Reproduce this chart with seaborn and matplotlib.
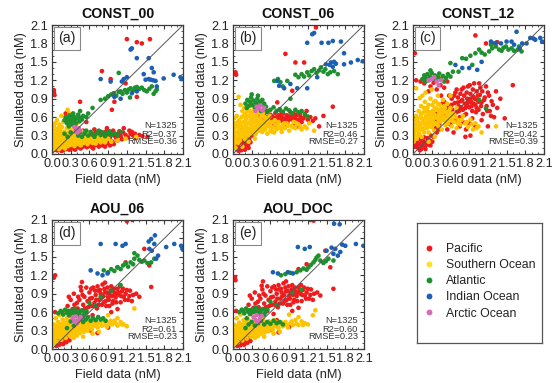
import numpy as np
import pandas as pd
import matplotlib
matplotlib.use("Agg")
import matplotlib.pyplot as plt
from matplotlib.lines import Line2D
from matplotlib.ticker import MultipleLocator
import seaborn as sns

# ---------------- data ----------------
oceans = ["Pacific", "Southern Ocean", "Atlantic", "Indian Ocean", "Arctic Ocean"]
titles = ["CONST_00", "CONST_06", "CONST_12", "AOU_06", "AOU_DOC"]
letters = ["(a)", "(b)", "(c)", "(d)", "(e)"]
n_obs = [1325, 1325, 1325, 1325, 1325]
r2_vals = [0.37, 0.46, 0.42, 0.61, 0.60]
rmse_vals = [0.36, 0.27, 0.39, 0.23, 0.23]
tick_values = [0.0, 0.3, 0.6, 0.9, 1.2, 1.5, 1.8, 2.1]

# ----- panel (a) CONST_00 -----
pac_a = [(0.04,0.07),(0.06,0.12),(0.08,0.06),(0.10,0.09),(0.12,0.14),(0.14,0.07),(0.16,0.10),(0.18,0.06),(0.20,0.12),
         (0.23,0.08),(0.25,0.11),(0.28,0.07),(0.30,0.13),(0.33,0.09),(0.35,0.12),(0.38,0.10),(0.40,0.15),(0.43,0.11),
         (0.45,0.13),(0.48,0.16),(0.50,0.12),(0.53,0.14),(0.55,0.18),(0.58,0.13),(0.60,0.16),(0.63,0.12),(0.65,0.17),
         (0.68,0.14),(0.70,0.19),(0.72,0.15),(0.75,0.12),(0.78,0.17),(0.80,0.14),(0.83,0.19),(0.86,0.16),(0.90,0.18),
         (0.93,0.14),(0.97,0.20),(0.55,0.30),(0.60,0.27),(0.62,0.33),(0.66,0.29),(0.70,0.35),(0.73,0.30),(0.76,0.27),
         (0.80,0.33),(0.83,0.29),(0.86,0.36),(0.90,0.31),(0.93,0.27),(0.96,0.34),(1.00,0.30),(1.03,0.26),(1.06,0.33),
         (1.10,0.29),(1.14,0.35),(1.18,0.31),(1.22,0.27),(1.26,0.33),(1.30,0.30),(1.35,0.26),(1.40,0.31),(1.45,0.29),
         (1.53,0.28),(0.50,0.38),(0.45,0.35),(0.68,0.40),(0.88,0.42),(1.15,0.42),(1.28,0.36),(0.25,0.58),(0.28,0.62),
         (0.30,0.55),(0.22,0.66),(0.33,0.65),(0.12,0.38),(0.05,0.28),(0.08,0.22),(0.38,0.48),(0.55,0.52),(0.03,1.04),
         (0.03,1.00),(0.04,0.96),(0.45,0.85),(0.80,1.35),(0.94,1.22),(1.00,0.85),(1.18,1.15),(1.36,0.93),(1.20,1.87),
         (1.36,1.82),(1.44,1.80),(1.57,1.87),(0.96,0.72),(0.15,0.05),(0.27,0.13),(0.37,0.07),(0.46,0.09),(0.56,0.11),
         (0.66,0.09),(0.74,0.16),(0.85,0.12),(0.88,0.22),(0.99,0.16),(1.05,0.22),(1.12,0.24),(0.71,0.25),(0.78,0.36),
         (0.98,0.38),(1.08,0.37),(1.24,0.38),(1.33,0.33)]
sou_a = [(0.01,0.12),(0.02,0.18),(0.02,0.25),(0.03,0.08),(0.03,0.31),(0.04,0.14),(0.05,0.21),(0.05,0.28),(0.06,0.10),
         (0.07,0.17),(0.07,0.35),(0.08,0.24),(0.09,0.13),(0.10,0.30),(0.10,0.19),(0.11,0.08),(0.12,0.26),(0.13,0.15),
         (0.13,0.38),(0.14,0.22),(0.15,0.11),(0.16,0.32),(0.17,0.18),(0.18,0.27),(0.19,0.14),(0.20,0.36),(0.20,0.23),
         (0.21,0.09),(0.22,0.30),(0.23,0.17),(0.24,0.42),(0.25,0.25),(0.26,0.13),(0.27,0.34),(0.28,0.20),(0.29,0.28),
         (0.30,0.15),(0.30,0.39),(0.31,0.24),(0.32,0.31),(0.33,0.18),(0.34,0.45),(0.35,0.27),(0.36,0.13),(0.37,0.35),
         (0.38,0.22),(0.39,0.30),(0.40,0.17),(0.41,0.40),(0.42,0.26),(0.43,0.33),(0.44,0.20),(0.45,0.29),(0.46,0.14),
         (0.47,0.37),(0.48,0.24),(0.50,0.31),(0.51,0.18),(0.52,0.27),(0.54,0.22),(0.55,0.34),(0.57,0.16),(0.58,0.28),
         (0.60,0.21),(0.62,0.25),(0.65,0.18),(0.68,0.27),(0.72,0.21),(0.75,0.24),(0.78,0.19),(0.82,0.26),(0.86,0.22),
         (0.90,0.25),(0.95,0.20),(1.05,0.22),(1.18,0.25),(1.35,0.28),(0.03,0.45),(0.05,0.50),(0.08,0.55),(0.12,0.48),
         (0.18,0.52),(0.22,0.60),(0.25,0.72),(0.28,0.66),(0.15,0.62),(0.35,0.55),(0.40,0.50),(0.10,0.42),(0.06,0.40),
         (0.02,0.36),(0.16,0.44),(0.27,0.48),(0.02,0.10),(0.04,0.22),(0.06,0.33),(0.08,0.16),(0.09,0.29),(0.11,0.35),
         (0.12,0.20),(0.14,0.29),(0.15,0.16),(0.17,0.24),(0.18,0.35),(0.19,0.20),(0.21,0.27),(0.22,0.14),(0.24,0.21),
         (0.25,0.33),(0.26,0.18),(0.28,0.29),(0.29,0.38),(0.31,0.17),(0.32,0.26),(0.34,0.21),(0.35,0.34),(0.37,0.19),
         (0.38,0.28),(0.40,0.24),(0.41,0.32),(0.43,0.16),(0.44,0.27),(0.46,0.22),(0.47,0.30),(0.49,0.19),(0.50,0.25),
         (0.53,0.30),(0.56,0.24),(0.59,0.19),(0.63,0.22),(0.67,0.24),(0.70,0.17),(0.74,0.27),(0.80,0.23),(0.85,0.19),
         (0.04,0.17),(0.07,0.27),(0.10,0.23),(0.13,0.12),(0.16,0.21),(0.20,0.17),(0.23,0.25),(0.27,0.22),(0.30,0.20),
         (0.33,0.30),(0.36,0.24),(0.39,0.20),(0.42,0.22),(0.45,0.25),(0.48,0.20),(0.52,0.22),(0.55,0.27)]
atl_a = [(0.20,0.55),(0.22,0.60),(0.24,0.50),(0.26,0.57),(0.28,0.63),(0.30,0.52),(0.31,0.58),(0.33,0.48),(0.35,0.61),
         (0.36,0.55),(0.38,0.50),(0.40,0.58),(0.42,0.64),(0.44,0.53),(0.46,0.59),(0.48,0.56),(0.50,0.62),(0.27,0.45),
         (0.23,0.53),(0.34,0.66),(0.45,0.70),(0.55,0.60),(0.58,0.66),(0.42,0.30),(0.45,0.35),(0.48,0.28),(0.52,0.33),
         (0.55,0.38),(0.58,0.30),(0.62,0.36),(0.65,0.32),(0.68,0.28),(0.72,0.34),(0.75,0.38),(0.78,0.31),(0.82,0.35),
         (0.85,0.29),(0.88,0.33),(0.92,0.37),(0.95,0.31),(1.00,0.34),(1.05,0.30),(1.10,0.36),(0.30,0.35),(0.25,0.28),
         (0.20,0.33),(0.38,0.40),(0.78,0.88),(0.85,0.90),(0.90,0.94),(0.95,0.97),(0.99,0.99),(1.03,0.95),(1.07,1.01),
         (1.10,1.02),(1.13,0.98),(1.17,1.04),(1.20,1.00),(1.23,1.05),(1.26,1.07),(1.30,1.03),(1.33,1.08),(1.36,1.09),
         (1.40,1.06),(1.44,1.08),(1.48,1.04),(1.52,1.02),(1.56,1.06),(1.60,1.10),(1.63,0.98),(1.66,1.02),(1.68,1.05),
         (1.07,1.32),(0.65,0.75),(1.25,0.92)]
ind_a = [(0.78,1.22),(0.94,1.18),(1.12,1.18),(1.20,1.25),(1.36,1.56),(1.55,1.56),(1.60,1.40),(1.63,1.33),(1.50,1.21),
         (1.55,1.22),(1.58,1.21),(1.62,1.20),(1.66,1.19),(1.79,1.23),(1.95,1.29),(2.06,1.25),(2.08,1.22),(1.26,1.70),
         (1.28,1.72),(1.10,0.90),(1.36,1.02),(1.28,0.99),(1.68,1.10),(1.00,0.93),(1.15,1.22),(1.47,1.30)]
arc_a = [(0.38,0.36),(0.40,0.40),(0.43,0.42),(0.45,0.38),(0.36,0.44),(0.41,0.35)]

# ----- panel (b) CONST_06 -----
pac_b = [(0.04,0.12),(0.06,0.18),(0.07,0.08),(0.08,0.14),(0.10,0.22),(0.11,0.10),(0.12,0.16),(0.13,0.06),(0.14,0.20),
         (0.15,0.13),(0.17,0.09),(0.18,0.17),(0.20,0.12),(0.22,0.20),(0.24,0.15),(0.26,0.25),(0.28,0.19),(0.09,0.26),
         (0.16,0.28),(0.30,0.30),(0.40,0.55),(0.43,0.62),(0.46,0.50),(0.48,0.58),(0.50,0.66),(0.52,0.53),(0.54,0.60),
         (0.56,0.48),(0.58,0.57),(0.60,0.64),(0.62,0.52),(0.64,0.60),(0.66,0.55),(0.68,0.67),(0.70,0.50),(0.72,0.58),
         (0.74,0.63),(0.76,0.54),(0.78,0.60),(0.80,0.66),(0.82,0.52),(0.84,0.58),(0.86,0.63),(0.88,0.55),(0.90,0.61),
         (0.92,0.68),(0.94,0.56),(0.96,0.62),(0.98,0.50),(1.00,0.58),(1.02,0.64),(1.05,0.55),(1.08,0.61),(1.10,0.52),
         (1.13,0.58),(1.16,0.63),(1.20,0.56),(1.24,0.60),(1.28,0.54),(1.32,0.58),(0.65,0.45),(0.85,0.46),(1.05,0.45),
         (0.55,0.70),(0.75,0.72),(1.18,0.70),(0.04,1.33),(0.05,1.29),(0.84,1.63),(1.00,1.49),(1.14,1.49),(1.60,0.77),
         (1.33,2.06),(0.71,0.84),(1.45,0.62),(1.38,0.45),(0.95,1.03),(0.05,0.09),(0.09,0.05),(0.12,0.24),(0.19,0.07),
         (0.21,0.16),(0.25,0.10),(0.60,0.56),(0.70,0.60),(0.80,0.56),(0.90,0.57),(1.00,0.62),(1.10,0.57),(0.68,0.55),
         (0.77,0.65),(0.87,0.51),(0.97,0.66),(1.07,0.66)]
sou_b = [(0.01,0.15),(0.01,0.30),(0.02,0.42),(0.03,0.22),(0.03,0.50),(0.04,0.10),(0.05,0.35),(0.06,0.27),(0.07,0.45),
         (0.08,0.18),(0.09,0.38),(0.10,0.55),(0.10,0.30),(0.11,0.22),(0.12,0.47),(0.13,0.36),(0.14,0.60),(0.15,0.28),
         (0.16,0.42),(0.17,0.52),(0.18,0.33),(0.19,0.65),(0.20,0.24),(0.20,0.45),(0.21,0.57),(0.22,0.37),(0.23,0.70),
         (0.24,0.30),(0.25,0.50),(0.26,0.62),(0.27,0.41),(0.28,0.55),(0.29,0.33),(0.30,0.67),(0.30,0.46),(0.31,0.58),
         (0.32,0.38),(0.33,0.52),(0.34,0.72),(0.35,0.44),(0.36,0.61),(0.37,0.35),(0.38,0.55),(0.39,0.48),(0.40,0.66),
         (0.41,0.40),(0.42,0.58),(0.43,0.50),(0.44,0.70),(0.45,0.43),(0.46,0.62),(0.47,0.36),(0.48,0.53),(0.50,0.46),
         (0.51,0.60),(0.52,0.40),(0.54,0.52),(0.55,0.33),(0.56,0.58),(0.58,0.45),(0.60,0.38),(0.62,0.52),(0.64,0.43),
         (0.66,0.35),(0.68,0.48),(0.70,0.40),(0.73,0.52),(0.75,0.44),(0.78,0.36),(0.80,0.48),(0.83,0.42),(0.86,0.50),
         (0.90,0.38),(0.93,0.46),(0.97,0.52),(1.00,0.42),(1.05,0.48),(1.10,0.40),(1.15,0.45),(1.22,0.50),(1.30,0.38),
         (0.09,0.93),(0.12,0.80),(0.18,0.75),(0.06,0.62),(0.02,0.58),(0.15,0.12),(0.25,0.20),(0.35,0.25),(0.15,0.70),
         (0.28,0.78),(0.02,0.35),(0.04,0.28),(0.05,0.45),(0.07,0.20),(0.08,0.52),(0.11,0.40),(0.12,0.28),(0.14,0.50),
         (0.16,0.35),(0.17,0.62),(0.19,0.44),(0.21,0.30),(0.22,0.50),(0.24,0.62),(0.26,0.36),(0.27,0.70),(0.29,0.48),
         (0.31,0.40),(0.33,0.62),(0.35,0.52),(0.36,0.32),(0.38,0.66),(0.40,0.45),(0.42,0.38),(0.44,0.56),(0.46,0.48),
         (0.48,0.66),(0.50,0.40),(0.53,0.58),(0.55,0.46),(0.57,0.52),(0.59,0.62),(0.61,0.44),(0.63,0.36),(0.67,0.55),
         (0.72,0.46),(0.77,0.42),(0.82,0.50),(0.88,0.46),(0.95,0.44),(1.02,0.50),(1.08,0.44),(1.18,0.42),(0.04,0.20),
         (0.09,0.33),(0.13,0.43),(0.18,0.40),(0.23,0.42),(0.28,0.38),(0.32,0.45),(0.37,0.42),(0.41,0.52),(0.45,0.55)]
atl_b = [(0.20,0.82),(0.23,0.88),(0.25,0.78),(0.27,0.85),(0.29,0.92),(0.31,0.80),(0.33,0.87),(0.35,0.76),(0.37,0.83),
         (0.39,0.90),(0.41,0.78),(0.43,0.85),(0.45,0.80),(0.47,0.88),(0.50,0.82),(0.53,0.77),(0.30,0.97),(0.40,0.95),
         (0.22,0.75),(0.45,0.70),(0.50,0.74),(0.55,0.68),(0.60,0.72),(0.65,0.76),(0.70,0.70),(0.75,0.73),(0.80,0.69),
         (0.85,0.74),(0.90,0.71),(0.95,0.66),(1.00,0.72),(1.05,0.68),(1.10,0.70),(1.15,0.65),(1.20,0.61),(0.66,1.19),
         (0.76,1.17),(0.87,1.19),(0.92,0.90),(1.00,1.29),(1.05,1.25),(1.10,1.30),(1.14,1.26),(1.19,1.33),(1.22,1.28),
         (1.26,1.35),(1.30,1.38),(1.34,1.32),(1.38,1.36),(1.41,1.41),(1.45,1.34),(1.48,1.38),(1.52,1.30),(1.56,1.33),
         (1.62,1.35),(1.68,1.30),(0.72,1.22),(0.80,1.10)]
ind_b = [(1.27,1.95),(1.30,1.97),(1.53,1.81),(1.60,1.84),(1.73,1.83),(1.42,1.81),(1.19,1.81),(1.49,1.46),(1.57,1.49),
         (1.65,1.47),(1.78,1.46),(1.89,1.49),(2.00,1.53),(2.08,1.51),(0.74,1.11),(0.82,1.07),(0.92,1.14),(1.03,1.07),
         (0.71,1.19),(1.19,1.07),(1.78,1.64),(1.55,1.45),(1.60,1.42),(1.35,1.25),(1.62,1.50)]
arc_b = [(0.41,0.74),(0.47,0.71),(0.38,0.77),(0.44,0.79),(0.50,0.75),(0.36,0.70)]

# ----- panel (c) CONST_12 -----
pac_c = [(0.04,0.12),(0.06,0.20),(0.08,0.10),(0.10,0.16),(0.12,0.24),(0.13,0.08),(0.15,0.14),(0.17,0.20),(0.19,0.12),
         (0.21,0.18),(0.23,0.26),(0.25,0.15),(0.27,0.22),(0.29,0.30),(0.31,0.20),(0.33,0.28),(0.09,0.30),(0.35,0.55),
         (0.40,0.65),(0.42,0.48),(0.45,0.72),(0.48,0.58),(0.50,0.85),(0.52,0.66),(0.55,0.50),(0.57,0.78),(0.60,0.62),
         (0.62,0.90),(0.63,0.72),(0.65,0.55),(0.67,0.83),(0.68,1.00),(0.70,0.68),(0.72,0.92),(0.73,0.78),(0.75,0.60),
         (0.77,0.86),(0.78,1.05),(0.80,0.72),(0.82,0.95),(0.83,0.82),(0.85,0.65),(0.87,0.90),(0.88,1.10),(0.90,0.76),
         (0.92,0.98),(0.93,0.85),(0.95,0.70),(0.97,0.93),(0.98,1.15),(1.00,0.80),(1.02,1.02),(1.03,0.88),(1.05,0.72),
         (1.07,0.96),(1.08,1.08),(1.10,0.84),(1.12,0.65),(1.15,0.92),(1.18,0.78),(1.20,1.00),(1.23,0.70),(1.26,0.86),
         (1.30,0.60),(1.35,0.75),(0.55,0.40),(0.65,0.35),(0.75,0.45),(0.90,0.50),(1.00,0.45),(0.84,0.28),(0.92,0.30),
         (1.47,0.58),(0.58,0.95),(0.45,0.95),(0.05,1.20),(0.12,1.18),(0.18,1.15),(0.22,1.22),(0.28,1.10),(0.33,1.16),
         (0.38,1.05),(0.44,1.12),(0.50,1.08),(0.55,1.18),(0.25,1.02),(0.03,1.64),(1.00,1.93),(1.17,1.80),(1.28,1.80),
         (1.35,1.82),(1.60,1.12),(0.62,0.80),(0.66,0.95),(0.70,1.05),(0.74,0.70),(0.76,0.98),(0.79,0.88),(0.81,1.08),
         (0.84,0.75),(0.86,1.00),(0.89,0.85),(0.91,1.12),(0.94,0.78),(0.96,1.05),(0.99,0.90),(1.01,0.68),(1.04,0.95),
         (1.06,1.15),(1.09,0.78),(1.11,1.02),(1.14,0.88),(1.17,1.10),(1.19,0.70),(1.22,0.95),(1.25,0.62),(1.28,0.80),
         (0.53,0.72),(0.47,0.82),(0.43,0.60),(0.38,0.70),(0.60,0.48),(0.70,0.55),(0.80,0.52),(0.95,0.58),(1.10,0.55),
         (0.85,0.40),(1.20,0.45),(1.40,0.90),(1.33,1.02),(0.38,0.35),(0.42,0.40),(0.36,0.42),(0.05,0.16),(0.07,0.26),
         (0.11,0.06),(0.14,0.21),(0.18,0.27),(0.20,0.08),(0.24,0.20),(0.28,0.14),(0.77,0.76),(0.87,0.80),(0.97,0.82),
         (1.05,0.85),(0.72,0.84),(0.92,0.90),(0.82,0.63),(1.02,0.75)]
sou_c = [(0.01,0.20),(0.01,0.40),(0.02,0.55),(0.03,0.30),(0.04,0.48),(0.05,0.62),(0.06,0.25),(0.07,0.38),(0.08,0.52),
         (0.09,0.70),(0.10,0.33),(0.11,0.45),(0.12,0.60),(0.13,0.78),(0.14,0.28),(0.15,0.40),(0.16,0.55),(0.17,0.68),
         (0.18,0.35),(0.19,0.85),(0.20,0.48),(0.21,0.62),(0.22,0.42),(0.23,0.75),(0.24,0.55),(0.25,0.35),(0.26,0.68),
         (0.27,0.50),(0.28,0.90),(0.29,0.60),(0.30,0.44),(0.31,0.80),(0.32,0.55),(0.33,0.70),(0.34,0.38),(0.35,0.62),
         (0.36,0.86),(0.37,0.50),(0.38,0.74),(0.39,0.58),(0.40,0.95),(0.41,0.45),(0.42,0.66),(0.43,0.80),(0.44,0.53),
         (0.45,0.70),(0.46,0.40),(0.47,0.62),(0.48,0.88),(0.50,0.55),(0.51,0.75),(0.52,0.47),(0.54,0.65),(0.55,0.82),
         (0.56,0.50),(0.58,0.70),(0.60,0.58),(0.62,0.45),(0.64,0.66),(0.66,0.52),(0.68,0.60),(0.70,0.42),(0.73,0.55),
         (0.76,0.48),(0.80,0.62),(0.84,0.50),(0.88,0.44),(0.92,0.56),(0.96,0.40),(1.00,0.50),(1.05,0.45),(1.10,0.35),
         (1.33,0.45),(0.05,1.07),(0.41,1.26),(0.11,0.91),(0.20,1.00),(0.15,0.95),(0.30,1.05),(0.60,0.95),(0.25,0.20),
         (0.35,0.28),(0.70,0.75),(0.02,0.35),(0.04,0.25),(0.05,0.42),(0.07,0.58),(0.08,0.30),(0.10,0.50),(0.12,0.40),
         (0.13,0.65),(0.15,0.50),(0.17,0.42),(0.18,0.75),(0.20,0.58),(0.22,0.70),(0.23,0.50),(0.25,0.80),(0.26,0.45),
         (0.28,0.65),(0.29,0.52),(0.31,0.70),(0.33,0.48),(0.34,0.85),(0.36,0.60),(0.37,0.72),(0.39,0.50),(0.40,0.82),
         (0.42,0.58),(0.44,0.72),(0.46,0.55),(0.48,0.68),(0.50,0.78),(0.52,0.60),(0.55,0.58),(0.57,0.62),(0.60,0.75),
         (0.63,0.55),(0.66,0.65),(0.72,0.50),(0.78,0.56),(0.86,0.52),(0.94,0.48),(1.02,0.42),(0.06,0.48),(0.09,0.42),
         (0.14,0.58),(0.19,0.50),(0.24,0.64),(0.27,0.58),(0.32,0.64),(0.35,0.75),(0.38,0.62),(0.41,0.70),(0.45,0.62),
         (0.49,0.72),(0.53,0.68),(0.58,0.56),(0.62,0.64)]
atl_c = [(0.15,1.22),(0.18,1.28),(0.20,1.24),(0.23,1.30),(0.25,1.20),(0.27,1.26),(0.30,1.32),(0.32,1.23),(0.35,1.28),
         (0.37,1.20),(0.40,1.25),(0.42,1.31),(0.45,1.22),(0.48,1.27),(0.50,1.18),(0.53,1.24),(0.56,1.30),(0.60,1.26),
         (0.64,1.34),(0.73,1.34),(0.20,1.18),(0.28,1.36),(0.79,1.56),(0.85,1.55),(0.92,1.60),(1.00,1.64),(1.06,1.70),
         (1.10,1.65),(1.15,1.62),(1.22,1.67),(1.27,1.72),(1.33,1.75),(1.38,1.70),(1.42,1.68),(1.45,1.73),(1.49,1.75),
         (1.53,1.70),(1.58,1.72),(1.62,1.68),(1.68,1.70),(1.74,1.67),(1.70,1.75),(1.25,1.78),(1.06,0.88),(1.17,0.74),
         (0.95,1.45),(0.60,1.48)]
ind_c = [(0.68,1.45),(0.79,1.40),(0.90,1.40),(1.03,1.37),(1.25,1.83),(1.33,1.81),(1.41,1.80),(1.58,1.83),(1.66,1.99),
         (1.88,1.89),(1.96,1.86),(2.04,1.89),(2.07,1.83),(1.82,1.80),(1.93,1.88),(1.71,1.72),(1.62,1.78),(1.75,1.80),
         (1.50,1.83),(1.10,1.50)]
arc_c = [(0.30,1.22),(0.34,1.25),(0.41,1.12),(0.25,1.20),(0.38,1.18),(0.45,1.20)]

# ----- panel (d) AOU_06 -----
pac_d = [(0.04,0.15),(0.05,0.22),(0.06,0.10),(0.08,0.18),(0.09,0.26),(0.10,0.12),(0.11,0.20),(0.12,0.07),(0.13,0.15),
         (0.14,0.24),(0.16,0.10),(0.17,0.18),(0.19,0.13),(0.20,0.22),(0.22,0.16),(0.24,0.28),(0.26,0.20),(0.28,0.14),
         (0.07,0.30),(0.15,0.32),(0.20,0.60),(0.25,0.70),(0.28,0.55),(0.30,0.80),(0.33,0.65),(0.35,0.90),(0.38,0.58),
         (0.40,0.75),(0.42,0.85),(0.45,0.62),(0.47,0.95),(0.50,0.72),(0.52,0.85),(0.55,0.60),(0.57,0.78),(0.60,0.92),
         (0.62,0.70),(0.64,0.83),(0.66,1.00),(0.68,0.75),(0.70,0.88),(0.72,0.66),(0.74,0.95),(0.76,0.80),(0.78,0.90),
         (0.80,0.72),(0.82,0.86),(0.84,0.98),(0.86,0.78),(0.88,0.92),(0.90,0.84),(0.92,0.70),(0.94,0.95),(0.96,0.86),
         (0.98,0.78),(1.00,0.92),(1.02,0.84),(1.05,0.98),(1.08,0.88),(1.10,0.76),(1.12,0.94),(1.15,0.85),(1.18,0.90),
         (1.22,0.80),(1.25,0.95),(1.30,0.88),(0.55,1.00),(0.85,1.08),(0.65,0.55),(0.95,0.60),(1.05,0.65),(0.45,0.50),
         (0.70,0.45),(0.05,1.20),(0.03,1.16),(0.48,1.09),(0.46,1.01),(1.05,1.33),(1.18,1.41),(1.29,2.10),(1.20,2.08),
         (1.48,1.63),(1.56,1.36),(1.59,1.01),(0.73,0.26),(0.62,0.30),(0.05,0.60),(0.90,0.35),(0.58,0.68),(0.61,0.82),
         (0.63,0.98),(0.67,0.70),(0.69,0.95),(0.71,0.80),(0.73,1.02),(0.75,0.72),(0.77,0.96),(0.79,0.84),(0.81,1.05),
         (0.83,0.76),(0.85,0.92),(0.87,0.70),(0.89,1.00),(0.91,0.80),(0.93,0.88),(0.95,1.02),(0.97,0.74),(0.99,0.98),
         (1.01,0.88),(1.03,0.76),(1.06,0.92),(1.09,1.02),(1.11,0.86),(1.14,0.98),(1.17,0.80),(1.20,0.96),(1.24,0.86),
         (1.28,0.78),(0.36,0.72),(0.41,0.66),(0.44,0.80),(0.49,0.88),(0.53,0.66),(0.27,0.85),(0.32,0.60),(1.35,0.90),
         (1.40,0.85),(0.07,0.05),(0.18,0.08),(0.23,0.11),(0.12,0.28)]
sou_d = [(0.01,0.18),(0.01,0.32),(0.02,0.25),(0.03,0.40),(0.04,0.14),(0.05,0.30),(0.06,0.22),(0.07,0.36),(0.08,0.12),
         (0.09,0.27),(0.10,0.44),(0.11,0.19),(0.12,0.33),(0.13,0.25),(0.14,0.40),(0.15,0.15),(0.16,0.30),(0.17,0.48),
         (0.18,0.22),(0.19,0.37),(0.20,0.28),(0.21,0.43),(0.22,0.18),(0.23,0.33),(0.24,0.50),(0.25,0.25),(0.26,0.39),
         (0.27,0.30),(0.28,0.46),(0.29,0.21),(0.30,0.36),(0.31,0.28),(0.32,0.42),(0.33,0.24),(0.34,0.50),(0.35,0.33),
         (0.36,0.40),(0.37,0.27),(0.38,0.45),(0.39,0.34),(0.40,0.22),(0.41,0.39),(0.42,0.30),(0.43,0.47),(0.44,0.36),
         (0.45,0.26),(0.46,0.42),(0.47,0.32),(0.48,0.50),(0.50,0.38),(0.51,0.28),(0.52,0.45),(0.54,0.34),(0.55,0.40),
         (0.57,0.30),(0.58,0.46),(0.60,0.36),(0.62,0.42),(0.64,0.32),(0.66,0.48),(0.68,0.38),(0.70,0.44),(0.73,0.35),
         (0.76,0.42),(0.80,0.38),(0.84,0.45),(0.88,0.36),(0.92,0.43),(0.96,0.40),(1.00,0.46),(1.05,0.38),(1.10,0.44),
         (1.15,0.40),(1.20,0.37),(1.05,0.50),(1.32,0.66),(0.90,0.55),(0.06,0.50),(0.12,0.55),(0.20,0.60),(0.03,0.08),
         (0.35,0.18),(0.50,0.20),(0.65,0.25),(0.75,0.28),(0.02,0.22),(0.03,0.30),(0.05,0.18),(0.06,0.38),(0.08,0.24),
         (0.09,0.33),(0.11,0.28),(0.12,0.40),(0.14,0.20),(0.15,0.34),(0.17,0.27),(0.18,0.42),(0.20,0.35),(0.21,0.22),
         (0.23,0.40),(0.25,0.32),(0.26,0.46),(0.28,0.26),(0.29,0.40),(0.31,0.34),(0.33,0.46),(0.35,0.28),(0.36,0.44),
         (0.38,0.36),(0.40,0.30),(0.41,0.46),(0.43,0.38),(0.45,0.33),(0.47,0.44),(0.49,0.35),(0.52,0.40),(0.55,0.31),
         (0.57,0.42),(0.60,0.40),(0.63,0.37),(0.67,0.42),(0.71,0.38),(0.78,0.44),(0.86,0.40),(0.94,0.46),(1.02,0.42),
         (1.12,0.40),(0.04,0.26),(0.10,0.36),(0.16,0.24),(0.22,0.30),(0.27,0.37),(0.32,0.31),(0.37,0.36),(0.42,0.34),
         (0.47,0.38),(0.53,0.36)]
atl_d = [(0.10,0.58),(0.14,0.62),(0.18,0.56),(0.21,0.64),(0.24,0.59),(0.27,0.55),(0.30,0.62),(0.33,0.58),(0.36,0.65),
         (0.39,0.57),(0.42,0.61),(0.45,0.55),(0.48,0.63),(0.52,0.58),(0.55,0.62),(0.42,0.46),(0.46,0.50),(0.50,0.44),
         (0.54,0.48),(0.58,0.52),(0.62,0.46),(0.66,0.50),(0.70,0.47),(0.74,0.52),(0.78,0.48),(0.82,0.50),(0.86,0.46),
         (0.30,0.45),(0.24,0.34),(0.35,0.38),(0.78,0.85),(0.83,1.28),(0.90,1.25),(0.95,1.30),(1.00,1.27),(1.05,1.33),
         (1.10,1.30),(1.14,1.36),(1.18,1.39),(1.22,1.34),(1.26,1.41),(1.30,1.38),(1.32,1.47),(1.37,1.52),(1.40,1.45),
         (1.44,1.42),(1.48,1.44),(1.53,1.40),(1.59,1.41),(1.64,1.47),(1.32,1.56),(1.10,1.04),(0.95,0.95),(0.60,0.75),
         (0.70,0.70),(0.16,0.60),(0.26,0.62),(0.34,0.61),(0.44,0.60),(0.50,0.54)]
ind_d = [(0.78,1.71),(1.02,1.71),(1.13,1.68),(1.18,1.71),(1.59,1.79),(1.64,1.71),(1.56,1.63),(1.83,1.66),(1.96,1.71),
         (2.07,1.68),(2.09,1.63),(0.62,1.28),(0.73,1.23),(0.81,1.20),(0.89,1.23),(1.67,1.47),(1.70,1.52),(1.60,1.60),
         (1.55,1.75),(1.65,1.85)]
arc_d = [(0.38,0.53),(0.43,0.47),(0.33,0.50),(0.40,0.42),(0.46,0.52),(0.36,0.45)]

# ----- panel (e) AOU_DOC -----
pac_e = [(0.04,0.14),(0.05,0.21),(0.06,0.09),(0.08,0.17),(0.09,0.25),(0.10,0.11),(0.11,0.19),(0.12,0.06),(0.13,0.14),
         (0.14,0.23),(0.16,0.09),(0.17,0.17),(0.19,0.12),(0.20,0.21),(0.22,0.15),(0.24,0.27),(0.26,0.19),(0.28,0.13),
         (0.07,0.29),(0.15,0.31),(0.20,0.62),(0.25,0.72),(0.28,0.57),(0.30,0.82),(0.33,0.67),(0.35,0.92),(0.38,0.60),
         (0.40,0.77),(0.42,0.87),(0.45,0.64),(0.47,0.97),(0.50,0.74),(0.52,0.87),(0.55,0.62),(0.57,0.80),(0.60,0.94),
         (0.62,0.72),(0.64,0.85),(0.66,1.02),(0.68,0.77),(0.70,0.90),(0.72,0.68),(0.74,0.97),(0.76,0.82),(0.78,0.92),
         (0.80,0.74),(0.82,0.88),(0.84,1.00),(0.86,0.80),(0.88,0.94),(0.90,0.86),(0.92,0.72),(0.94,0.97),(0.96,0.88),
         (0.98,0.80),(1.00,0.94),(1.02,0.86),(1.05,1.00),(1.08,0.90),(1.10,0.78),(1.12,0.96),(1.15,0.87),(1.18,0.92),
         (1.22,0.82),(1.25,0.97),(1.30,0.90),(0.55,1.02),(0.85,1.10),(0.65,0.57),(0.95,0.62),(1.05,0.67),(0.45,0.52),
         (0.70,0.47),(0.04,1.12),(0.03,1.17),(0.48,1.10),(0.46,1.03),(1.05,1.30),(1.18,1.38),(1.29,2.09),(1.24,2.10),
         (1.48,1.60),(1.56,1.33),(1.61,0.98),(0.73,0.27),(0.62,0.31),(0.05,0.62),(0.90,0.36),(0.58,0.70),(0.61,0.84),
         (0.63,1.00),(0.67,0.72),(0.69,0.97),(0.71,0.82),(0.73,1.04),(0.75,0.74),(0.77,0.98),(0.79,0.86),(0.81,1.07),
         (0.83,0.78),(0.85,0.94),(0.87,0.72),(0.89,1.02),(0.91,0.82),(0.93,0.90),(0.95,1.04),(0.97,0.76),(0.99,1.00),
         (1.01,0.90),(1.03,0.78),(1.06,0.94),(1.09,1.04),(1.11,0.88),(1.14,1.00),(1.17,0.82),(1.20,0.98),(1.24,0.88),
         (1.28,0.80),(0.36,0.74),(0.41,0.68),(0.44,0.82),(0.49,0.90),(0.53,0.68),(0.27,0.87),(0.32,0.62),(1.35,0.92),
         (1.40,0.87),(0.07,0.05),(0.18,0.07),(0.23,0.10),(0.12,0.27)]
sou_e = [(0.01,0.17),(0.01,0.31),(0.02,0.24),(0.03,0.39),(0.04,0.13),(0.05,0.29),(0.06,0.21),(0.07,0.35),(0.08,0.11),
         (0.09,0.26),(0.10,0.43),(0.11,0.18),(0.12,0.32),(0.13,0.24),(0.14,0.39),(0.15,0.14),(0.16,0.29),(0.17,0.47),
         (0.18,0.21),(0.19,0.36),(0.20,0.27),(0.21,0.42),(0.22,0.17),(0.23,0.32),(0.24,0.49),(0.25,0.24),(0.26,0.38),
         (0.27,0.29),(0.28,0.45),(0.29,0.20),(0.30,0.35),(0.31,0.27),(0.32,0.41),(0.33,0.23),(0.34,0.49),(0.35,0.32),
         (0.36,0.39),(0.37,0.26),(0.38,0.44),(0.39,0.33),(0.40,0.21),(0.41,0.38),(0.42,0.29),(0.43,0.46),(0.44,0.35),
         (0.45,0.25),(0.46,0.41),(0.47,0.31),(0.48,0.49),(0.50,0.37),(0.51,0.27),(0.52,0.44),(0.54,0.33),(0.55,0.39),
         (0.57,0.29),(0.58,0.45),(0.60,0.35),(0.62,0.41),(0.64,0.31),(0.66,0.47),(0.68,0.37),(0.70,0.43),(0.73,0.34),
         (0.76,0.41),(0.80,0.37),(0.84,0.44),(0.88,0.35),(0.92,0.42),(0.96,0.39),(1.00,0.47),(1.05,0.39),(1.10,0.45),
         (1.15,0.42),(1.20,0.40),(1.05,0.52),(1.32,0.63),(1.28,0.55),(0.90,0.56),(0.06,0.50),(0.12,0.56),(0.20,0.62),
         (0.03,0.08),(0.35,0.18),(0.50,0.20),(0.65,0.25),(0.75,0.28),(0.02,0.21),(0.03,0.29),(0.05,0.17),(0.06,0.37),
         (0.08,0.23),(0.09,0.32),(0.11,0.27),(0.12,0.39),(0.14,0.19),(0.15,0.33),(0.17,0.26),(0.18,0.41),(0.20,0.34),
         (0.21,0.21),(0.23,0.39),(0.25,0.31),(0.26,0.45),(0.28,0.25),(0.29,0.39),(0.31,0.33),(0.33,0.45),(0.35,0.27),
         (0.36,0.43),(0.38,0.35),(0.40,0.29),(0.41,0.45),(0.43,0.37),(0.45,0.32),(0.47,0.43),(0.49,0.34),(0.52,0.39),
         (0.55,0.30),(0.57,0.41),(0.60,0.39),(0.63,0.36),(0.67,0.41),(0.71,0.37),(0.78,0.43),(0.86,0.39),(0.94,0.45),
         (1.02,0.41),(1.12,0.39),(0.04,0.25),(0.10,0.35),(0.16,0.23),(0.22,0.29),(0.27,0.36),(0.32,0.30),(0.37,0.35),
         (0.42,0.33),(0.47,0.37),(0.53,0.35)]
atl_e = [(0.10,0.60),(0.14,0.64),(0.18,0.58),(0.21,0.66),(0.24,0.61),(0.27,0.57),(0.30,0.64),(0.33,0.60),(0.36,0.67),
         (0.39,0.59),(0.42,0.63),(0.45,0.57),(0.48,0.65),(0.52,0.60),(0.55,0.64),(0.25,0.40),(0.30,0.44),(0.35,0.38),
         (0.40,0.42),(0.45,0.46),(0.50,0.40),(0.55,0.44),(0.60,0.41),(0.65,0.46),(0.70,0.42),(0.75,0.44),(0.80,0.40),
         (0.22,0.50),(0.20,0.34),(0.77,1.20),(0.84,1.22),(0.92,1.24),(1.02,1.25),(1.08,1.28),(1.13,1.31),(1.18,1.29),
         (1.21,1.33),(1.25,1.37),(1.29,1.41),(1.32,1.45),(1.34,1.49),(1.37,1.52),(1.40,1.44),(1.45,1.40),(1.49,1.43),
         (1.53,1.47),(1.61,1.44),(1.10,0.96),(0.95,0.92),(0.60,0.77),(0.70,0.72),(0.16,0.62),(0.26,0.63),(0.34,0.63),
         (0.44,0.62),(0.50,0.56)]
ind_e = [(1.62,2.04),(1.71,2.03),(1.04,1.66),(1.15,1.63),(1.23,1.66),(0.64,1.25),(0.72,1.23),(0.88,1.25),(0.96,1.23),
         (1.64,1.63),(1.72,1.58),(1.80,1.68),(1.97,1.71),(2.09,1.68),(1.61,1.55),(1.58,1.65),(1.68,1.52),(1.75,1.70),
         (1.50,1.60)]
arc_e = [(0.38,0.55),(0.43,0.49),(0.33,0.52),(0.40,0.44),(0.46,0.54),(0.36,0.47)]

panels_data = [
    [pac_a, sou_a, atl_a, ind_a, arc_a],
    [pac_b, sou_b, atl_b, ind_b, arc_b],
    [pac_c, sou_c, atl_c, ind_c, arc_c],
    [pac_d, sou_d, atl_d, ind_d, arc_d],
    [pac_e, sou_e, atl_e, ind_e, arc_e],
]

# ---------------- style ----------------
colors = {"Pacific": "#ee1c1c", "Southern Ocean": "#fcc400", "Atlantic": "#1e902e",
          "Indian Ocean": "#1d5fb2", "Arctic Ocean": "#d66bb8"}
legend_colors = {"Pacific": "#ee1c1c", "Southern Ocean": "#fde02a", "Atlantic": "#1e902e",
                 "Indian Ocean": "#1d5fb2", "Arctic Ocean": "#d66bb8"}

sns.set_style("white")
plt.rcParams["font.family"] = ["Liberation Sans", "DejaVu Sans"]
plt.rcParams.update({
    "xtick.direction": "in", "ytick.direction": "in",
    "xtick.top": True, "ytick.right": True,
    "xtick.bottom": True, "ytick.left": True,
    "axes.edgecolor": "#3a3a3a", "axes.linewidth": 0.9,
    "xtick.color": "#3a3a3a", "ytick.color": "#3a3a3a",
    "xtick.labelcolor": "#222222", "ytick.labelcolor": "#222222",
})

W, H = 552, 383
fig = plt.figure(figsize=(W / 100, H / 100), dpi=100)

aw, ah = 131, 129
positions = [(52, 25), (233, 25), (413, 25), (52, 220), (233, 220)]

for i, (px, py) in enumerate(positions):
    ax = fig.add_axes([px / W, 1 - (py + ah) / H, aw / W, ah / H])
    rows = []
    for name, pts in zip(oceans, panels_data[i]):
        for (x, y) in pts:
            rows.append((x, y, name))
    df = pd.DataFrame(rows, columns=["field", "sim", "ocean"])
    sns.scatterplot(data=df, x="field", y="sim", hue="ocean", hue_order=oceans,
                    palette=colors, s=11, linewidth=0, edgecolor="none",
                    legend=False, ax=ax, zorder=2)
    ax.plot([0, 2.1], [0, 2.1], color="#555555", lw=0.7, zorder=3)
    ax.set_xlim(0, 2.1)
    ax.set_ylim(0, 2.1)
    ax.set_xticks(tick_values)
    ax.set_yticks(tick_values)
    ax.set_xticklabels([f"{v:.1f}" for v in tick_values])
    ax.set_yticklabels([f"{v:.1f}" for v in tick_values])
    ax.xaxis.set_minor_locator(MultipleLocator(0.1))
    ax.yaxis.set_minor_locator(MultipleLocator(0.1))
    ax.tick_params(which="major", length=3.2, width=0.8, labelsize=9.2, pad=3)
    ax.tick_params(which="minor", length=1.6, width=0.6)
    ax.tick_params(which="both", top=True, right=True)
    ax.set_xlabel("Field data (nM)", fontsize=9.2, color="#222222", labelpad=3)
    ax.set_ylabel("Simulated data (nM)", fontsize=9.2, color="#222222", labelpad=2)
    ax.set_title(titles[i], fontsize=10.2, fontweight="bold", color="#111111", pad=5)
    ax.text(0.045, 0.95, letters[i], transform=ax.transAxes, ha="left", va="top",
            fontsize=10.2, color="#222222", zorder=5,
            bbox=dict(boxstyle="square,pad=0.3", fc="white", ec="#888888", lw=0.8))
    ax.text(0.954, 0.219, f"N={n_obs[i]}", transform=ax.transAxes, ha="right", va="center",
            fontsize=6.7, color="#333333", zorder=5)
    ax.text(0.954, 0.155, f"R2={r2_vals[i]:.2f}", transform=ax.transAxes, ha="right", va="center",
            fontsize=6.7, color="#333333", zorder=5)
    ax.text(0.954, 0.095, f"RMSE={rmse_vals[i]:.2f}", transform=ax.transAxes, ha="right", va="center",
            fontsize=6.7, color="#333333", zorder=5)

# legend panel
lax = fig.add_axes([417 / W, 1 - 343 / H, 125 / W, 120 / H])
lax.set_xticks([])
lax.set_yticks([])
for sp in lax.spines.values():
    sp.set_color("#555555")
    sp.set_linewidth(0.9)
handles = [Line2D([0], [0], marker="o", linestyle="none", markersize=4.2,
                  markerfacecolor=legend_colors[o], markeredgecolor="none") for o in oceans]
lax.legend(handles, oceans, loc="upper left", bbox_to_anchor=(0.048, 0.83), frameon=False,
           fontsize=8.8, handlelength=1.0, handletextpad=0.85, labelspacing=0.33,
           borderpad=0.0, borderaxespad=0.0, labelcolor="#222222")

fig.savefig("out.png", dpi=100)
